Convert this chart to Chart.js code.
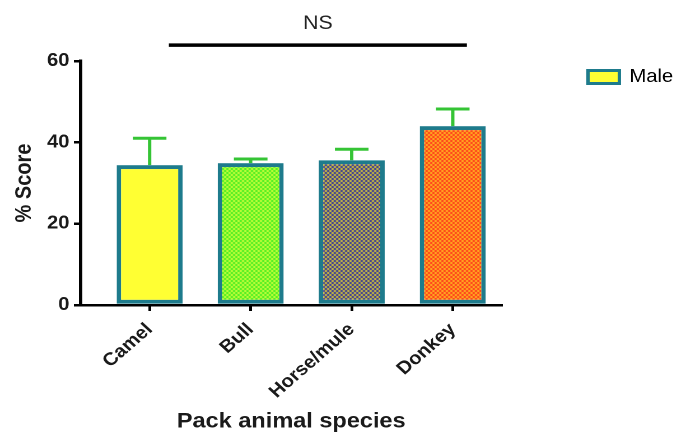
<!DOCTYPE html>
<html>
<head>
<meta charset="utf-8">
<script src="https://cdn.jsdelivr.net/npm/chart.js@4"></script>
<style>
  html, body { margin: 0; padding: 0; background: #fff; overflow: hidden; }
  #wrap { width: 622px; height: 432px; transform: scaleX(1.12); transform-origin: 0 0; }
</style>
</head>
<body>
<div id="wrap"><canvas id="chart" width="622" height="432"></canvas></div>
<script>
const especes = ["Camel", "Bull", "Horse/mule", "Donkey"];
const scores = [34.4, 34.9, 35.6, 44.0];
const ecarts = [6.6, 1.0, 2.7, 4.2];
const ticksY = [0, 20, 40, 60];
const serie = "Male";
// bracket "NS" au-dessus des barres (positions sur l'axe x / valeur y)
const nsDebut = 1.19;
const nsFin = 4.14;
const nsNiveau = 63.9;

const police = "'Liberation Sans', Arial, sans-serif";
const bordure = "#1e7b8c";

const canvas = document.getElementById("chart");

function motif(c1, c2) {
  const c = document.createElement("canvas");
  c.width = 4;
  c.height = 4;
  const g = c.getContext("2d");
  g.fillStyle = c1;
  g.fillRect(0, 0, 4, 4);
  g.fillStyle = c2;
  g.fillRect(0, 0, 2, 2);
  g.fillRect(2, 2, 2, 2);
  return canvas.getContext("2d").createPattern(c, "repeat");
}

const remplissages = [
  "#ffff33",
  motif("#48ee22", "#c8ff3a"),
  motif("#34349c", "#cfc23a"),
  motif("#ff3a1c", "#ffb420")
];

const barresErreur = {
  id: "barresErreur",
  beforeDatasetsDraw(chart) {
    const { ctx, scales: { x, y } } = chart;
    ctx.save();
    ctx.strokeStyle = "#35c435";
    ctx.lineWidth = 3;
    scores.forEach((m, i) => {
      const px = x.getPixelForValue(i + 1);
      const y0 = y.getPixelForValue(m);
      const y1 = y.getPixelForValue(m + ecarts[i]);
      ctx.beginPath();
      ctx.moveTo(px, y0);
      ctx.lineTo(px, y1);
      ctx.moveTo(px - 15, y1);
      ctx.lineTo(px + 15, y1);
      ctx.stroke();
    });
    ctx.restore();
  }
};

const bracketNS = {
  id: "bracketNS",
  afterDraw(chart) {
    const { ctx, scales: { x, y } } = chart;
    const x0 = x.getPixelForValue(nsDebut);
    const x1 = x.getPixelForValue(nsFin);
    const py = y.getPixelForValue(nsNiveau);
    ctx.save();
    ctx.strokeStyle = "#000";
    ctx.lineWidth = 3.5;
    ctx.beginPath();
    ctx.moveTo(x0, py);
    ctx.lineTo(x1, py);
    ctx.stroke();
    ctx.fillStyle = "#222";
    ctx.font = "19px " + police;
    ctx.textAlign = "center";
    ctx.textBaseline = "middle";
    ctx.fillText("NS", (x0 + x1) / 2, y.getPixelForValue(nsNiveau + 5.3));
    ctx.restore();
  }
};

new Chart(canvas, {
  type: "bar",
  data: {
    datasets: [{
      label: serie,
      data: especes.map((e, i) => ({ x: i + 1, y: scores[i] })),
      backgroundColor: remplissages,
      borderColor: bordure,
      borderWidth: 4,
      borderSkipped: false,
      barPercentage: 0.653,
      categoryPercentage: 1
    }]
  },
  options: {
    responsive: false,
    devicePixelRatio: 2,
    animation: false,
    layout: { padding: { top: 61, right: 11, bottom: 0, left: 0 } },
    plugins: {
      tooltip: { enabled: false },
      legend: {
        position: "right",
        align: "start",
        labels: {
          boxWidth: 28,
          boxHeight: 13,
          padding: 7,
          color: "#222",
          font: { family: police, size: 18 },
          generateLabels: () => [{
            text: serie,
            fillStyle: "#ffff33",
            strokeStyle: bordure,
            lineWidth: 3,
            datasetIndex: 0
          }]
        }
      }
    },
    scales: {
      x: {
        type: "linear",
        min: 0.317,
        max: 4.485,
        offset: false,
        afterBuildTicks: s => { s.ticks = especes.map((e, i) => ({ value: i + 1 })); },
        ticks: {
          callback: v => especes[v - 1],
          autoSkip: false,
          minRotation: 44,
          maxRotation: 44,
          padding: 8,
          color: "#1a1a1a",
          font: { family: police, size: 18, weight: "bold" }
        },
        grid: { display: true, offset: false, drawOnChartArea: false, tickLength: 6, color: "#000", lineWidth: 2.5 },
        border: { color: "#000", width: 2.5 },
        title: {
          display: true,
          text: "Pack animal species",
          color: "#1a1a1a",
          font: { family: police, size: 21, weight: "bold", lineHeight: 1 },
          padding: { top: 0, bottom: 0 }
        },
        afterFit: s => { s.height = 127; }
      },
      y: {
        min: 0,
        max: 60,
        afterBuildTicks: s => { s.ticks = ticksY.map(v => ({ value: v })); },
        ticks: {
          padding: 4,
          color: "#1a1a1a",
          font: { family: police, size: 18, weight: "bold" }
        },
        grid: { display: true, drawOnChartArea: false, tickLength: 6, color: "#000", lineWidth: 2.5 },
        border: { color: "#000", width: 3 },
        title: {
          display: true,
          text: "% Score",
          color: "#1a1a1a",
          font: { family: police, size: 20, weight: "bold" },
          padding: { top: 10, bottom: 0 }
        },
        afterFit: s => { s.width = 72; }
      },
      y2: {
        type: "linear",
        position: "right",
        display: true,
        grid: { display: false },
        border: { display: false },
        ticks: { display: false },
        afterFit: s => { s.width = 70; }
      }
    }
  },
  plugins: [barresErreur, bracketNS]
});
</script>
</body>
</html>
